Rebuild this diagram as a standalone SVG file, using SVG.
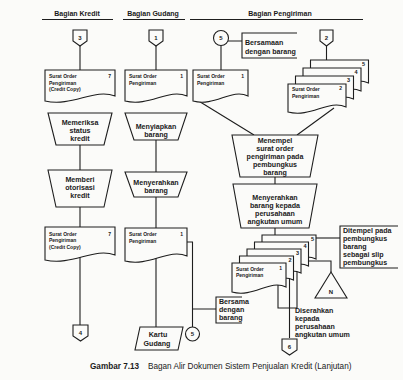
<svg xmlns="http://www.w3.org/2000/svg" width="403" height="380" viewBox="0 0 403 380">
  <style>
    .ln { fill: none; stroke: #1e1e1e; stroke-width: 1.1; }
    .sh { fill: #fbfbf9; stroke: #1e1e1e; stroke-width: 1.1; }
    .t { font-family: "Liberation Sans", Arial, sans-serif; fill: #1a1a1a; font-weight: 700; }
    .doc { font-size: 5px; }
    .op { font-size: 7.1px; text-anchor: middle; }
    .note { font-size: 7.1px; }
    .num { font-size: 6px; text-anchor: middle; }
    .cnt { font-size: 5.5px; text-anchor: end; }
    .hd { font-size: 7px; text-anchor: middle; }
    .cap { font-size: 8.2px; font-weight: 400; }
  </style>
  <rect width="403" height="380" fill="#fbfbf9"/>

  <!-- column headings -->
  <g id="headings">
    <text class="t hd" x="77" y="15.5">Bagian Kredit</text>
    <text class="t hd" x="153" y="15.5">Bagian Gudang</text>
    <text class="t hd" x="280" y="15.5">Bagian Pengiriman</text>
    <path class="ln" d="M42,19.5 H113 M123,19.5 H185 M190,19.5 H363"/>
  </g>

  <!-- flow lines (drawn first so shapes sit on top) -->
  <g id="connectors">
    <!-- Kredit -->
    <path class="ln" d="M80,46 V98 M80,140 V170 M80,200 V227 M80,250 V325"/>
    <!-- Gudang -->
    <path class="ln" d="M156,46 V98 M156,135 V172 M156,190 V228 M156,250 V327"/>
    <path class="ln" d="M187,242 H192.5 V327 M192.5,309 H216"/>
    <!-- Pengiriman, top -->
    <path class="ln" d="M221,45.5 V70 M228,41 H242 M326.5,46 V60"/>
    <path class="ln" d="M197,100 L254,135 M334,108 L297,135"/>
    <path class="ln" d="M275,170 V184 M275,220 V235"/>
    <!-- Pengiriman, lower copies -->
    <path class="ln" d="M310,238 H340"/>
    <path class="ln" d="M305,261 H331 V272"/>
    <path class="ln" d="M297,270 V308 M278,282 V308 H297 M289.5,278 V338"/>
  </g>

  <!-- Bagian Kredit -->
  <g id="conn-3">
    <path class="sh" d="M73,30 H87 V41 L80,46 L73,41 Z"/>
    <text class="t num" x="80" y="40">3</text>
  </g>
  <g id="doc-kredit-1">
    <path class="sh" d="M45,70 H115 V96 C94,88 73,107 45,101 Z"/>
    <text class="t doc" x="49" y="78">Surat Order</text>
    <text class="t doc" x="111" y="78" text-anchor="end">7</text>
    <text class="t doc" x="49" y="84.5">Pengiriman</text>
    <text class="t doc" x="49" y="91">(Credit Copy)</text>
  </g>
  <g id="op-memeriksa">
    <path class="sh" d="M48,113 H112 L104,145 H56 Z"/>
    <text class="t op" x="80" y="125">Memeriksa</text>
    <text class="t op" x="80" y="133">status</text>
    <text class="t op" x="80" y="141">kredit</text>
  </g>
  <g id="op-memberi">
    <path class="sh" d="M48,170 H112 L104,207 H56 Z"/>
    <text class="t op" x="80" y="182">Memberi</text>
    <text class="t op" x="80" y="190">otorisasi</text>
    <text class="t op" x="80" y="198">kredit</text>
  </g>
  <g id="doc-kredit-2">
    <path class="sh" d="M45,227 H115 V255 C94,247 73,266 45,260 Z"/>
    <text class="t doc" x="49" y="235.5">Surat Order</text>
    <text class="t doc" x="111" y="235.5" text-anchor="end">7</text>
    <text class="t doc" x="49" y="242">Pengiriman</text>
    <text class="t doc" x="49" y="248.5">(Credit Copy)</text>
  </g>
  <g id="conn-4">
    <path class="sh" d="M73,325 H88 V336 L80.5,341 L73,336 Z"/>
    <text class="t num" x="80.5" y="335">4</text>
  </g>

  <!-- Bagian Gudang -->
  <g id="conn-1">
    <path class="sh" d="M149,30 H163 V41 L156,46 L149,41 Z"/>
    <text class="t num" x="156" y="40">1</text>
  </g>
  <g id="doc-gudang-1">
    <path class="sh" d="M125,70 H187 V96 C168.4,88 149.8,107 125,101 Z"/>
    <text class="t doc" x="129" y="78">Surat Order</text>
    <text class="t doc" x="183" y="78" text-anchor="end">1</text>
    <text class="t doc" x="129" y="84.5">Pengiriman</text>
  </g>
  <g id="op-menyiapkan">
    <path class="sh" d="M125,113 H187 L178,140 H134 Z"/>
    <text class="t op" x="156" y="128.5">Menyiapkan</text>
    <text class="t op" x="156" y="136.5">barang</text>
  </g>
  <g id="op-menyerahkan">
    <path class="sh" d="M125,172 H187 L178,197 H134 Z"/>
    <text class="t op" x="156" y="185">Menyerahkan</text>
    <text class="t op" x="156" y="193">barang</text>
  </g>
  <g id="doc-gudang-2">
    <path class="sh" d="M125,228 H187 V256 C168.4,248 149.8,267 125,261 Z"/>
    <text class="t doc" x="129" y="236">Surat Order</text>
    <text class="t doc" x="183" y="236" text-anchor="end">1</text>
    <text class="t doc" x="129" y="242.5">Pengiriman</text>
  </g>
  <g id="note-bersama">
    <path class="ln" d="M242,297 H216 V323 H242"/>
    <text class="t note" x="219" y="303.5">Bersama</text>
    <text class="t note" x="219" y="311.5">dengan</text>
    <text class="t note" x="219" y="319.5">barang</text>
  </g>
  <g id="kartu-gudang">
    <path class="sh" d="M140,327 H183 L178,350 H135 Z"/>
    <text class="t op" x="158" y="336.5">Kartu</text>
    <text class="t op" x="157" y="345.5">Gudang</text>
  </g>
  <g id="conn-5-out">
    <circle class="sh" cx="192.5" cy="334" r="7"/>
    <text class="t num" x="192.5" y="336">5</text>
  </g>

  <!-- Bagian Pengiriman -->
  <g id="conn-5-in">
    <circle class="sh" cx="221" cy="38" r="7.5"/>
    <text class="t num" x="221" y="40.2">5</text>
  </g>
  <g id="note-bersamaan">
    <path class="ln" d="M297,33 H242 V58 H297"/>
    <text class="t note" x="245" y="45">Bersamaan</text>
    <text class="t note" x="245" y="54">dengan barang</text>
  </g>
  <g id="doc-kirim-1">
    <path class="sh" d="M193,70 H248 V96 C231.5,88 215,107 193,101 Z"/>
    <text class="t doc" x="197" y="78">Surat Order</text>
    <text class="t doc" x="244" y="78" text-anchor="end">1</text>
    <text class="t doc" x="197" y="84.5">Pengiriman</text>
  </g>
  <g id="conn-2">
    <path class="sh" d="M320,30 H333 V41 L326.5,46 L320,41 Z"/>
    <text class="t num" x="326.5" y="40">2</text>
  </g>
  <g id="doc-stack-top">
    <path class="sh" d="M310.5,60 H368.5 V83 C351.1,75 333.7,94 310.5,88 Z"/>
    <text class="t cnt" x="365" y="65.5">5</text>
    <path class="sh" d="M303,68 H361 V91 C343.6,83 326.2,102 303,96 Z"/>
    <text class="t cnt" x="357.5" y="73.5">4</text>
    <path class="sh" d="M295.5,76 H353.5 V99 C336.1,91 318.7,110 295.5,104 Z"/>
    <text class="t cnt" x="350" y="81.5">3</text>
    <path class="sh" d="M288,84 H346 V107 C328.6,99 311.2,118 288,112 Z"/>
    <text class="t doc" x="292" y="91">Surat Order</text>
    <text class="t doc" x="342" y="90" text-anchor="end">2</text>
    <text class="t doc" x="292" y="97.5">Pengiriman</text>
  </g>
  <g id="op-menempel">
    <path class="sh" d="M232,135 H318 L310,177 H240 Z"/>
    <text class="t op" x="275" y="143">Menempel</text>
    <text class="t op" x="275" y="151">surat order</text>
    <text class="t op" x="275" y="159">pengiriman pada</text>
    <text class="t op" x="275" y="167">pembungkus</text>
    <text class="t op" x="275" y="175">barang</text>
  </g>
  <g id="op-serah-angkutan">
    <path class="sh" d="M233,184 H317 L309,228 H241 Z"/>
    <text class="t op" x="275" y="199.5">Menyerahkan</text>
    <text class="t op" x="275" y="207.5">barang kepada</text>
    <text class="t op" x="275" y="215.5">perusahaan</text>
    <text class="t op" x="275" y="223.5">angkutan umum</text>
  </g>
  <g id="doc-stack-bottom">
    <path class="sh" d="M262,235 H316 V259 C299.8,251 283.6,270 262,264 Z"/>
    <text class="t cnt" x="314" y="241">5</text>
    <path class="sh" d="M254.5,242 H308.5 V266 C292.3,258 276.1,277 254.5,271 Z"/>
    <text class="t cnt" x="306.5" y="248">4</text>
    <path class="sh" d="M247,249 H301 V273 C284.8,265 268.6,284 247,278 Z"/>
    <text class="t cnt" x="299" y="255">3</text>
    <path class="sh" d="M239.5,256 H293.5 V280 C277.3,272 261.1,291 239.5,285 Z"/>
    <text class="t cnt" x="291.5" y="262">2</text>
    <path class="sh" d="M232,263 H286 V287 C269.8,279 253.6,298 232,292 Z"/>
    <text class="t doc" x="236" y="270.5">Surat Order</text>
    <text class="t doc" x="282" y="270" text-anchor="end">1</text>
    <text class="t doc" x="236" y="277">Pengiriman</text>
  </g>
  <g id="note-ditempel">
    <path class="ln" d="M398,226 H340 V268 H398"/>
    <text class="t note" x="343" y="233">Ditempel pada</text>
    <text class="t note" x="343" y="241">pembungkus</text>
    <text class="t note" x="343" y="249">barang</text>
    <text class="t note" x="343" y="257">sebagai slip</text>
    <text class="t note" x="343" y="265">pembungkus</text>
  </g>
  <g id="file-n">
    <path class="sh" d="M331,272 L347,298 H315 Z"/>
    <text class="t num" x="331" y="294">N</text>
  </g>
  <g id="note-diserahkan">
    <text class="t note" x="295" y="313">Diserahkan</text>
    <text class="t note" x="295" y="321">kepada</text>
    <text class="t note" x="295" y="329">perusahaan</text>
    <text class="t note" x="295" y="337">angkutan umum</text>
  </g>
  <g id="conn-6">
    <path class="sh" d="M282,339 H297 V350 L289.5,355 L282,350 Z"/>
    <text class="t num" x="289.5" y="349">6</text>
  </g>

  <!-- caption -->
  <text class="t cap" x="90" y="368.5"><tspan font-weight="700">Gambar 7.13</tspan><tspan x="148">Bagan Alir Dokumen Sistem Penjualan Kredit (Lanjutan)</tspan></text>
</svg>
